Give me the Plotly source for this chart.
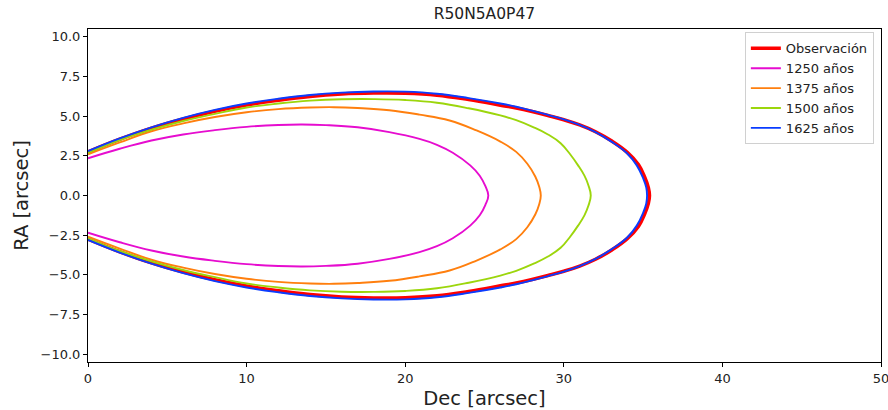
import plotly.graph_objects as go

# Upper half of each bow-shock contour (Dec, RA); the lower half is its mirror image.
obs_dec = [0, 2, 4, 6, 8, 10, 12, 14, 16, 18, 20, 22, 24, 26, 27, 28, 29, 30, 31, 32, 33, 34, 34.7, 35.1, 35.33, 35.4]
obs_ra = [2.75, 3.55, 4.25, 4.83, 5.32, 5.71, 6.01, 6.25, 6.4, 6.46, 6.45, 6.33, 6.05, 5.7, 5.52, 5.3, 5.05, 4.78, 4.45, 4.02, 3.45, 2.72, 1.95, 1.15, 0.5, 0]

m1250_dec = [0, 2, 4, 6, 8, 10, 12, 13.5, 15, 17, 19, 20.9, 22, 23, 24.1, 24.7, 25.05, 25.24]
m1250_ra = [2.35, 2.95, 3.47, 3.85, 4.12, 4.33, 4.45, 4.48, 4.44, 4.3, 4.0, 3.57, 3.2, 2.7, 1.9, 1.25, 0.6, 0]

m1375_dec = [0, 2, 4, 6, 8, 10, 12, 14, 15.5, 17, 19, 20.9, 22.8, 24.5, 26, 27, 27.7, 28.2, 28.45, 28.55]
m1375_ra = [2.6, 3.35, 4.05, 4.55, 4.95, 5.25, 5.45, 5.55, 5.57, 5.52, 5.38, 5.1, 4.73, 4.1, 3.4, 2.75, 2.0, 1.2, 0.55, 0]

m1500_dec = [0, 2, 4, 6, 8, 10, 12, 14, 16, 18, 20, 22, 24, 26, 27, 28.1, 29, 29.8, 30.4, 30.9, 31.3, 31.55, 31.7]
m1500_ra = [2.7, 3.5, 4.15, 4.7, 5.15, 5.55, 5.8, 5.98, 6.07, 6.08, 6.02, 5.85, 5.5, 5.05, 4.75, 4.3, 3.85, 3.3, 2.6, 1.9, 1.25, 0.65, 0]

m1625_dec = [0, 2, 4, 6, 8, 10, 12, 14, 16, 18, 20, 22, 24, 26, 27, 28, 29, 30, 31, 32, 33, 34, 34.6, 35.0, 35.2, 35.25]
m1625_ra = [2.8, 3.6, 4.3, 4.9, 5.4, 5.8, 6.1, 6.34, 6.49, 6.56, 6.55, 6.42, 6.14, 5.8, 5.6, 5.35, 5.08, 4.8, 4.45, 4.0, 3.4, 2.65, 1.9, 1.1, 0.5, 0]

x_ticks = [0, 10, 20, 30, 40, 50]
y_ticks = [-10, -7.5, -5, -2.5, 0, 2.5, 5, 7.5, 10]
y_tick_text = ["\u221210.0", "\u22127.5", "\u22125.0", "\u22122.5", "0.0", "2.5", "5.0", "7.5", "10.0"]

series = [
    ("Observación", obs_dec, obs_ra, "#ff0000", 3.6),
    ("1250 años", m1250_dec, m1250_ra, "#e60ccf", 1.9),
    ("1375 años", m1375_dec, m1375_ra, "#ff7f0e", 1.9),
    ("1500 años", m1500_dec, m1500_ra, "#9cd60c", 1.9),
    ("1625 años", m1625_dec, m1625_ra, "#0a3cff", 1.9),
]


def closed_contour(dec, ra):
    """Join the upper half with its mirrored lower half."""
    xs = list(dec) + list(dec[-2::-1])
    ys = list(ra) + [-v for v in ra[-2::-1]]
    return xs, ys


fig = go.Figure()
for name, dec, ra, color, width in series:
    xs, ys = closed_contour(dec, ra)
    fig.add_trace(go.Scatter(
        x=xs, y=ys, mode="lines", name=name,
        line=dict(color=color, width=width, shape="spline", smoothing=1.2),
    ))

font_family = "DejaVu Sans, Liberation Sans, sans-serif"
axis_common = dict(
    showgrid=False, zeroline=False, showline=True, linecolor="#000000", linewidth=1,
    mirror=True, ticks="outside", ticklen=4, tickwidth=1, tickcolor="#000000",
    tickfont=dict(family=font_family, size=13, color="#222222"),
    automargin=False,
)

fig.update_layout(
    width=888, height=410,
    margin=dict(l=88, r=7, t=29, b=48),
    paper_bgcolor="white", plot_bgcolor="white",
    font=dict(family=font_family, color="#222222"),
    title=dict(text="R50N5A0P47", x=0.5455, xanchor="center", y=0.968, yanchor="middle",
               font=dict(family=font_family, size=15.5, color="#222222")),
    xaxis=dict(range=[0, 50], tickvals=x_ticks, ticktext=[str(v) for v in x_ticks],
               ticklabeloverflow="allow",
               title=dict(text="Dec [arcsec]", standoff=6,
                          font=dict(family=font_family, size=19.5, color="#222222")),
               **axis_common),
    yaxis=dict(range=[-10.5, 10.5], tickvals=y_ticks, ticktext=y_tick_text,
               title=dict(text="RA [arcsec]", standoff=6,
                          font=dict(family=font_family, size=19.5, color="#222222")),
               **axis_common),
    legend=dict(x=0.991, y=0.99, xanchor="right", yanchor="top",
                bgcolor="rgba(255,255,255,0.85)", bordercolor="#d0d0d0", borderwidth=1,
                font=dict(family=font_family, size=13, color="#222222"),
                tracegroupgap=0),
    showlegend=True,
)

fig.write_html("out.html")
